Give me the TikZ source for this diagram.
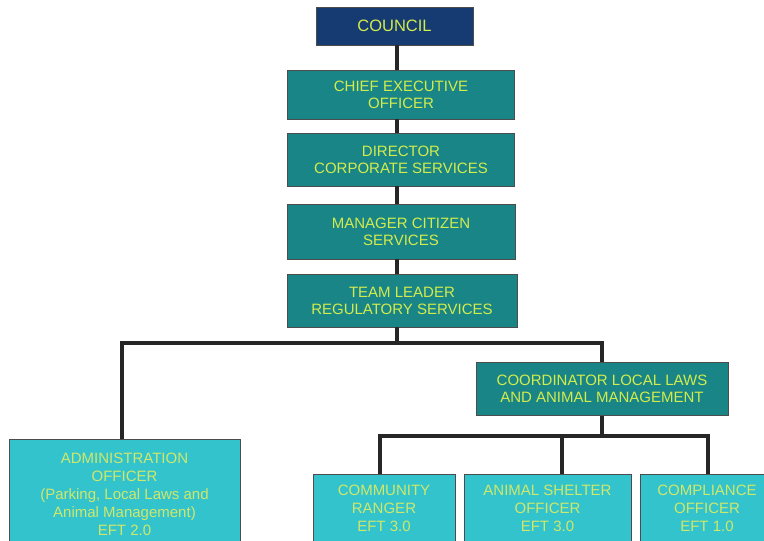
\documentclass[tikz,border=0pt]{standalone}
\usepackage{fontspec}
\setmainfont{Liberation Sans}
\definecolor{navy}{HTML}{163A72}
\definecolor{tealbox}{HTML}{1A8587}
\definecolor{cyanbox}{HTML}{33C3CD}
\definecolor{txt}{HTML}{D2EC4C}
\definecolor{txtlight}{HTML}{CFE86A}
\begin{document}
\begin{tikzpicture}[x=1pt,y=-1pt,
  box/.style={draw=black!70, line width=0.8pt, inner sep=0pt, align=center, text=txt, font=\fontsize{15}{17}\selectfont},
  topbox/.style={box, fill=navy, font=\fontsize{16.5}{18}\selectfont},
  midbox/.style={box, fill=tealbox},
  lowbox/.style={draw=black!70, line width=0.8pt, fill=cyanbox, inner sep=0pt},
  lowtext/.style={inner sep=0pt, align=center, text=txtlight, font=\fontsize{15}{18}\selectfont},
  link/.style={line width=3.2pt, black!85}]
\useasboundingbox (0,0) rectangle (764,541);
\node[topbox, minimum width=157, minimum height=38] (council) at (394.5,26) {COUNCIL};
\node[midbox, minimum width=227, minimum height=49] (ceo) at (401,94.5) {CHIEF EXECUTIVE\\OFFICER};
\node[midbox, minimum width=227, minimum height=53] (dir) at (401,159.5) {DIRECTOR\\CORPORATE SERVICES};
\node[midbox, minimum width=228, minimum height=55] (mgr) at (401,231.5) {MANAGER CITIZEN\\SERVICES};
\node[midbox, minimum width=230, minimum height=53] (tl) at (402,300.5) {TEAM LEADER\\REGULATORY SERVICES};
\node[midbox, minimum width=252, minimum height=53] (coord) at (602,389) {COORDINATOR LOCAL LAWS\\AND ANIMAL MANAGEMENT};
\node[lowbox, minimum width=231, minimum height=110, anchor=north west] (admin) at (9,439) {};
\node[lowtext] (admintxt) at (124.5,494) {ADMINISTRATION\\OFFICER\\(Parking, Local Laws and\\Animal Management)\\EFT 2.0};
\node[lowbox, minimum width=142, minimum height=75, anchor=north west] (comm) at (313,474) {};
\node[lowtext] (commtxt) at (384,508) {COMMUNITY\\RANGER\\EFT 3.0};
\node[lowbox, minimum width=167, minimum height=75, anchor=north west] (shelter) at (464,474) {};
\node[lowtext] (sheltertxt) at (547.5,508) {ANIMAL SHELTER\\OFFICER\\EFT 3.0};
\node[lowbox, minimum width=134, minimum height=75, anchor=north west] (comp) at (640,474) {};
\node[lowtext] (comptxt) at (707,508) {COMPLIANCE\\OFFICER\\EFT 1.0};
\coordinate (bus1) at (397,343);
\coordinate (bus2) at (602,436);
\draw[link] (council.south -| bus1) -- (ceo.north -| bus1);
\draw[link] (ceo.south -| bus1) -- (dir.north -| bus1);
\draw[link] (dir.south -| bus1) -- (mgr.north -| bus1);
\draw[link] (mgr.south -| bus1) -- (tl.north -| bus1);
\draw[link] (tl.south -| bus1) -- (bus1);
\draw[link] (admin.north -| 122,0) |- (bus1) -| (coord.north);
\draw[link] (coord.south) -- (bus2);
\draw[link] (comm.north -| 380,0) |- (bus2) -| (comp.north -| 708,0);
\draw[link] (bus2 -| 562,0) -- (shelter.north -| 562,0);
\end{tikzpicture}
\end{document}
